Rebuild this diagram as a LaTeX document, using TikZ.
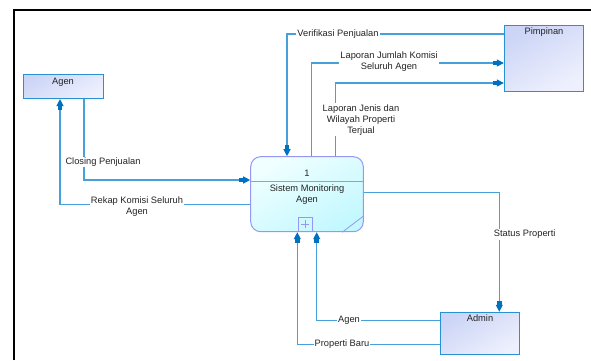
\documentclass[tikz,border=0pt]{standalone}
\usepackage{fontspec}
\setmainfont{Liberation Sans}
\usetikzlibrary{arrows.meta,calc}
\definecolor{flowline}{RGB}{70,160,220}
\definecolor{flowtip}{RGB}{0,112,192}
\definecolor{entborder}{RGB}{40,145,210}
\definecolor{entdark}{RGB}{204,213,246}
\definecolor{entlight}{RGB}{238,240,253}
\definecolor{procborder}{RGB}{150,150,245}
\definecolor{proclight}{RGB}{240,255,255}
\definecolor{procdark}{RGB}{195,248,255}
\definecolor{txt}{RGB}{35,35,35}
\begin{document}
\begin{tikzpicture}[x=1pt,y=-1pt,
  font=\fontsize{9.3}{11}\selectfont, text=txt,
  entity/.style={draw=entborder, line width=1pt, top color=entdark,
    bottom color=entlight, shading angle=30, inner sep=0pt},
  entname/.style={inner sep=0pt, anchor=north},
  process/.style={draw=procborder, line width=1pt, rounded corners=10pt,
    top color=proclight, bottom color=procdark, shading angle=30,
    minimum width=112.6pt, minimum height=75pt, inner sep=0pt},
  flow/.style={draw=flowline, line width=1.2pt,
    -{Rectangle[length=4pt,width=4.5pt,color=flowtip]Triangle[length=7pt,width=7pt,color=flowtip]}},
  lbl/.style={fill=white, inner sep=1pt, align=center}]
\useasboundingbox (0,0) rectangle (591,360);

% page frame
\draw[line width=2pt] (14.2,360) -- (14.2,9.7) -- (591,9.7);

% external entities
\node[entity, minimum width=80pt, minimum height=24.5pt] (agen) at (63,86.3) {};
\node[entname] (agent) at (63,77.5) {Agen};
\node[entity, minimum width=79.4pt, minimum height=66pt] (pim) at (544,58) {};
\node[entname] (pimt) at (544,27.5) {Pimpinan};
\node[entity, minimum width=79.7pt, minimum height=42.7pt] (adm) at (480,333.6) {};
\node[entname] (admt) at (480,314.5) {Admin};

% process
\node[process] (proc) at (307,194.2) {};
\draw[procborder, line width=1pt] (proc.west |- 0,181) -- (proc.east |- 0,181);
\draw[procborder, line width=0.8pt] ($(proc.south east)+(-21.6,0)$) -- ($(proc.south east)+(0,-16.4)$);
\node[draw=procborder, line width=0.8pt, minimum width=13.3pt, minimum height=14pt,
  inner sep=0pt, anchor=south] (plus) at (305.3,231.7) {};
\draw[procborder, line width=0.8pt] ($(plus.center)+(-4,0)$) -- ($(plus.center)+(4,0)$)
  ($(plus.center)+(0,-4)$) -- ($(plus.center)+(0,4)$);
\node (pnum) at (307,173) {1};
\node[align=center, inner sep=0pt] (pname) at (307,195) {Sistem Monitoring\\Agen};

% data flows
\draw[flow] (pim.west |- 0,34) -| (proc.north -| 287,0);
\draw[flow] (proc.north -| 311.7,0) |- (pim.west |- 0,63);
\draw[flow] (proc.north -| 335.7,0) |- (pim.west |- 0,83);
\draw[flow] (agen.south -| 84,0) |- (proc.west |- 0,180);
\draw[flow] (proc.west |- 0,204.3) -| (agen.south -| 60,0);
\draw[flow] (proc.east |- 0,192.7) -| (adm.north -| 499.3,0);
\draw[flow] (adm.west |- 0,320.3) -| (proc.south -| 316.7,0);
\draw[flow] (adm.west |- 0,344.3) -| (proc.south -| 297.3,0);

% flow labels
\node[lbl] (f1) at (338,34) {Verifikasi Penjualan};
\node[lbl] (f2) at (389,61.5) {Laporan Jumlah Komisi\\Seluruh Agen};
\node[lbl] (f3) at (361,119.7) {Laporan Jenis dan\\Wilayah Properti\\Terjual};
\node[lbl] (f4) at (103,162) {Closing Penjualan};
\node[lbl] (f5) at (137,206.5) {Rekap Komisi Seluruh\\Agen};
\node[lbl] (f6) at (524.7,234.3) {Status Properti};
\node[lbl] (f7) at (349,320.3) {Agen};
\node[lbl] (f8) at (342,344.3) {Properti Baru};
\end{tikzpicture}
\end{document}
